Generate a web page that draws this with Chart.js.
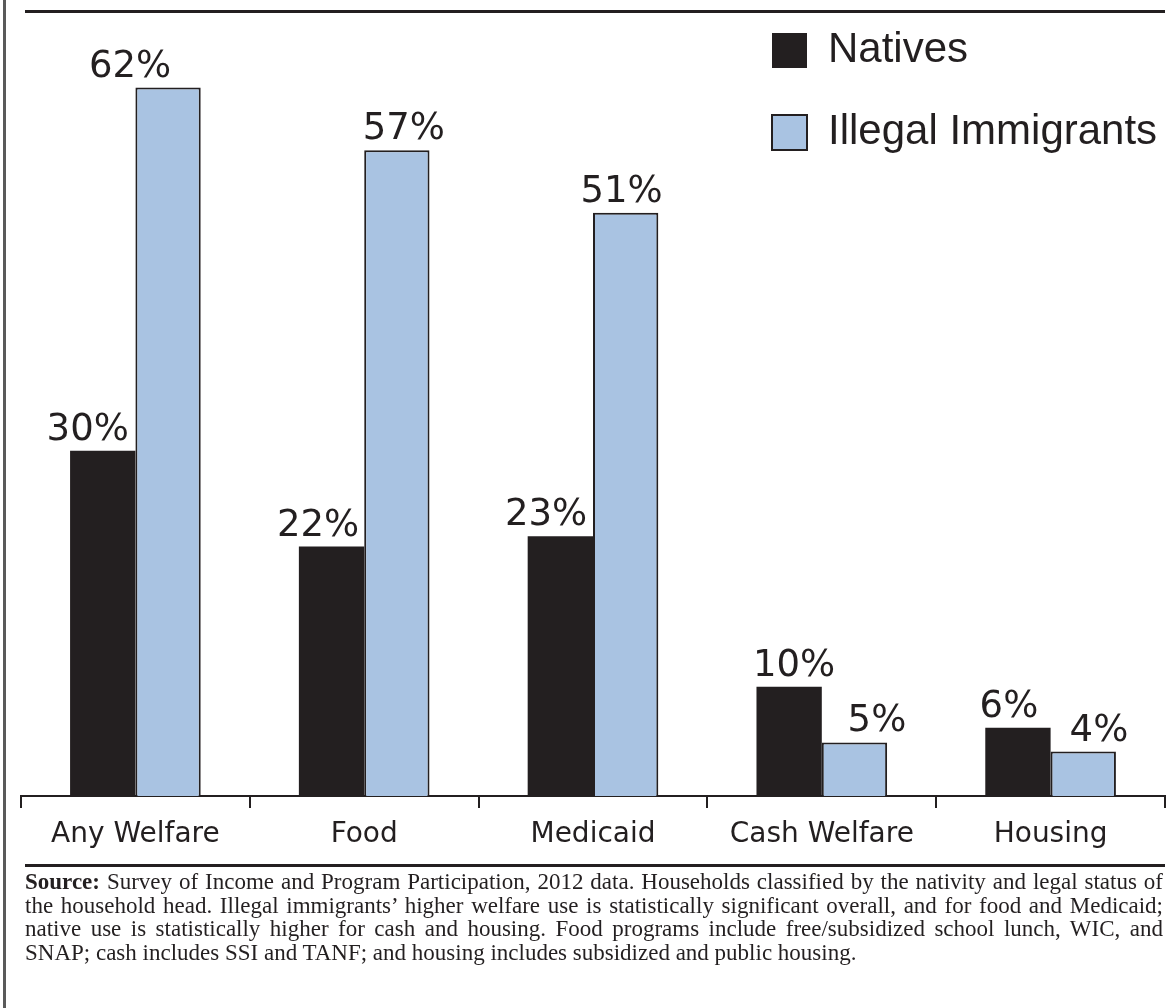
<!DOCTYPE html>
<html>
<head>
<meta charset="utf-8">
<script src="https://cdn.jsdelivr.net/npm/chart.js@4.4.1/dist/chart.umd.min.js"></script>
<style>
  html, body { margin: 0; padding: 0; background: #ffffff; }
  #wrap { position: relative; width: 1171px; height: 1008px; overflow: hidden; background: #fff; }
  #chart { position: absolute; left: 0; top: 0; }
  .rule { position: absolute; background: #231f20; }
  #source { position: absolute; left: 25px; top: 870px; width: 1138px; font-family: "Liberation Serif", "Times New Roman", serif; font-size: 23px; line-height: 23.7px; color: #231f20; }
  #source .j { text-align: justify; text-align-last: justify; white-space: nowrap; }
  #source .l { text-align: left; white-space: nowrap; }
</style>
</head>
<body>
<div id="wrap">
  <canvas id="chart" width="1171" height="1008"></canvas>
  <div class="rule" style="left:3px; top:0; width:3px; height:1008px; background:#5a5a5a;"></div>
  <div class="rule" style="left:25px; top:10px; width:1140px; height:2.5px;"></div>
  <div class="rule" style="left:25px; top:864px; width:1140px; height:2.5px;"></div>
  <div id="source">
    <div class="j"><span><b>Source:</b> Survey of Income and Program Participation, 2012 data. Households classified by the nativity and legal status of</span></div>
    <div class="j"><span>the household head. Illegal immigrants’ higher welfare use is statistically significant overall, and for food and Medicaid;</span></div>
    <div class="j"><span>native use is statistically higher for cash and housing. Food programs include free/subsidized school lunch, WIC, and</span></div>
    <div class="l"><span>SNAP; cash includes SSI and TANF; and housing includes subsidized and public housing.</span></div>
  </div>
</div>
<script>
// ---- data ----
const categories = ['Any Welfare', 'Food', 'Medicaid', 'Cash Welfare', 'Housing'];
const seriesNames = ['Natives', 'Illegal Immigrants'];
const natives = [30.3, 21.9, 22.8, 9.6, 6.0];
const illegalImmigrants = [62.2, 56.7, 51.2, 4.7, 3.9];

// ---- styling ----
const INK = '#231f20';
const BLUE = '#a9c3e2';

// fit justified source lines into the box (tighten word spacing if a line is too long)
document.querySelectorAll('#source .j').forEach((div) => {
  const span = div.querySelector('span');
  const boxW = div.clientWidth;
  const w = span.getBoundingClientRect().width;
  if (w > boxW) {
    const spaces = (span.textContent.match(/ /g) || []).length || 1;
    div.style.wordSpacing = ((boxW - w) / spaces - 0.05) + 'px';
  }
});

const valueLabels = {
  id: 'valueLabels',
  afterDatasetsDraw(chart, args, opts) {
    const ctx = chart.ctx;
    ctx.save();
    ctx.font = opts.font;
    ctx.fillStyle = opts.color;
    ctx.textAlign = 'center';
    ctx.textBaseline = 'alphabetic';
    chart.data.datasets.forEach((ds, di) => {
      const meta = chart.getDatasetMeta(di);
      meta.data.forEach((bar, i) => {
        const dx = (opts.dx[di] && opts.dx[di][i]) || 0;
        ctx.fillText(Math.round(ds.data[i]) + '%', bar.x + dx, bar.y - opts.gap);
      });
    });
    ctx.restore();
  }
};

const legendPlace = {
  id: 'legendPlace',
  afterLayout(chart, args, opts) {
    const lg = chart.legend;
    if (!lg) return;
    lg.left = opts.left;
    lg.top = opts.top;
    lg.right = opts.right;
    lg.bottom = opts.bottom;
    lg.width = opts.right - opts.left;
    lg.height = opts.bottom - opts.top;
  }
};

new Chart(document.getElementById('chart'), {
  type: 'bar',
  data: {
    labels: categories,
    datasets: [
      { label: seriesNames[0], data: natives, backgroundColor: INK, borderWidth: 0 },
      { label: seriesNames[1], data: illegalImmigrants, backgroundColor: BLUE, borderColor: INK, borderWidth: 2 }
    ]
  },
  options: {
    responsive: false,
    animation: false,
    events: [],
    datasets: { bar: { categoryPercentage: 0.571, barPercentage: 1.0 } },
    layout: { padding: { left: 21, right: 6, top: 30, bottom: 152 } },
    scales: {
      x: {
        offset: true,
        grid: { offset: true, drawOnChartArea: false, drawTicks: true, tickLength: 12, color: INK, lineWidth: 2 },
        border: { display: true, color: INK, width: 2 },
        ticks: { color: INK, font: { family: 'DejaVu Sans', size: 28 }, padding: 10, maxRotation: 0, autoSkip: false },
        afterFit: (s) => { s.height = 60; }
      },
      y: { display: false, min: 0, max: 67.25 }
    },
    plugins: {
      tooltip: { enabled: false },
      legend: {
        position: 'chartArea',
        align: 'start',
        labels: {
          color: INK,
          font: { family: 'Liberation Sans', size: 42 },
          boxWidth: 35,
          boxHeight: 35,
          padding: 40
        }
      },
      legendPlace: { left: 732, top: -10.5, right: 1171, bottom: 400 },
      valueLabels: {
        font: '37px "DejaVu Sans"',
        color: INK,
        gap: 11,
        dx: [[-15, -13.5, -14.3, 5, -9], [-38, 7, -4, 22.5, 15.7]]
      }
    }
  },
  plugins: [valueLabels, legendPlace]
});
</script>
</body>
</html>
